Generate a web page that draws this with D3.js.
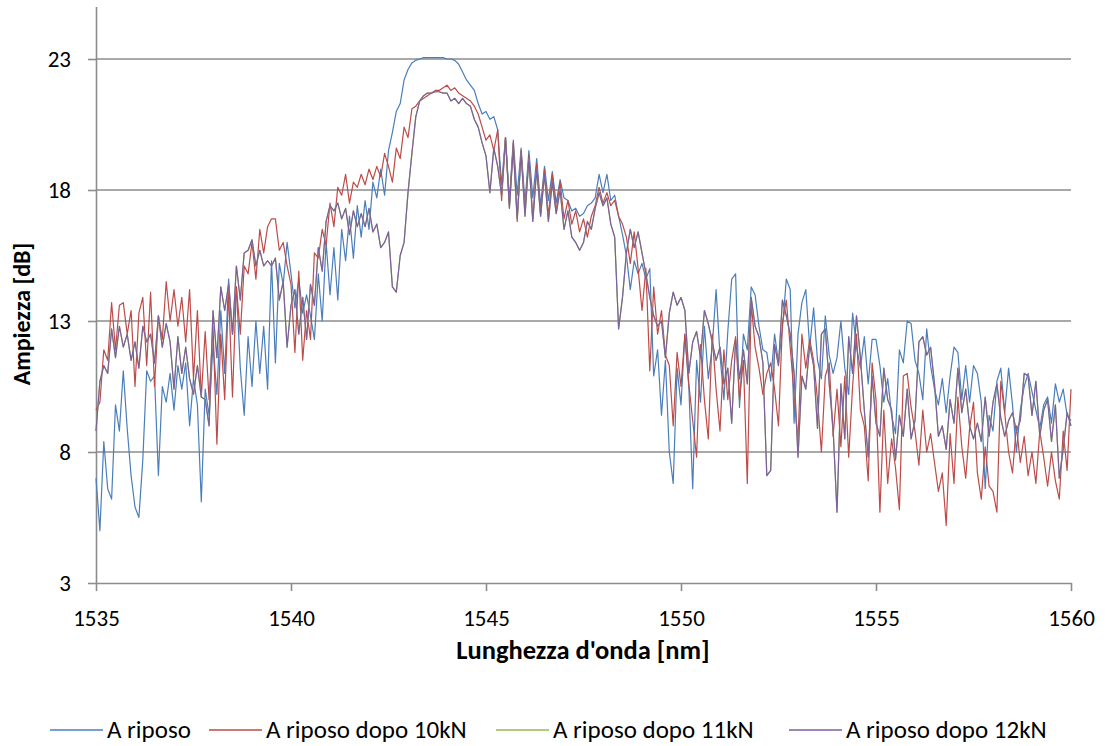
<!DOCTYPE html>
<html>
<head>
<meta charset="utf-8">
<script src="https://cdn.jsdelivr.net/npm/d3@7"></script>
<style>
  body { margin: 0; background: #fff; }
  text { font-family: Carlito, Calibri, Lato, sans-serif; fill: #000; }
</style>
</head>
<body>
<svg id="chart" width="1108" height="746"></svg>
<script>
// sampling grid of the spectra (nm)
var startNm = 1535, stepNm = 0.1;

// one row per nm, 10 samples each, last row is 1560.0
var aRiposo = [
  7.0, 5.0, 8.4, 6.6, 6.2, 9.8, 8.8, 11.1, 8.9, 7.1,
  5.9, 5.5, 7.7, 11.1, 10.7, 10.9, 7.1, 10.5, 9.9, 11.0,
  9.6, 11.3, 10.4, 11.4, 9.0, 10.8, 9.8, 6.1, 10.4, 9.4,
  12.1, 10.2, 13.4, 11.0, 14.6, 12.5, 14.3, 11.2, 9.4, 12.4,
  10.5, 13.0, 11.0, 12.8, 10.4, 15.3, 11.4, 15.2, 14.4, 16.0,
  14.8, 13.5, 14.6, 13.3, 14.0, 13.2, 12.3, 14.8, 13.0, 16.0,
  14.0, 15.8, 13.8, 16.5, 15.3, 17.0, 15.4, 17.4, 16.2, 17.6,
  16.5, 18.3, 17.7, 18.8, 17.8, 19.5, 20.2, 21.0, 21.3, 22.2,
  22.6, 22.85, 22.95, 23.0, 23.05, 23.05, 23.05, 23.05, 23.05, 23.05,
  23.0, 23.0, 22.95, 22.8, 22.5, 22.2, 22.0, 21.8, 21.3, 20.9,
  21.0, 20.7, 20.8, 20.3, 18.2, 20.0, 17.6, 19.9, 17.8, 19.6,
  17.5, 19.5, 17.7, 19.2, 17.4, 18.9, 17.6, 18.7, 17.5, 18.4,
  17.7, 17.6, 17.2, 17.3, 17.0, 17.1, 17.4, 17.5, 17.7, 18.6,
  17.9, 18.6, 17.6, 17.8, 17.0, 16.3, 15.5, 14.2, 15.3, 14.8,
  15.2, 14.6, 15.0, 10.9, 11.9, 9.4, 11.5, 8.0, 6.8, 11.2,
  9.8, 12.5, 10.5, 6.6, 11.5, 9.9, 12.8, 10.8, 12.0, 14.2,
  11.7, 10.0, 12.6, 14.6, 14.8, 9.7, 12.5, 11.9, 14.3, 14.0,
  12.8, 11.9, 11.8, 10.7, 12.5, 11.4, 12.7, 14.6, 14.2, 9.1,
  12.5, 13.7, 14.2, 12.0, 13.5, 11.5, 10.8, 13.2, 11.7, 11.0,
  11.6, 13.0, 11.2, 10.2, 13.3, 12.0, 11.2, 12.4, 10.6, 12.3,
  12.3, 11.3, 9.9, 10.8, 9.4, 8.7, 11.9, 11.4, 13.0, 12.9,
  11.5, 11.0, 10.0, 12.7, 11.3, 10.4, 9.8, 10.8, 9.5, 10.9,
  12.0, 11.8, 10.0, 11.3, 9.9, 11.3, 11.0, 9.9, 6.6, 9.4,
  8.8, 10.7, 11.2, 9.5, 11.2, 9.8, 8.0, 9.6, 10.5, 11.0,
  10.3, 9.6, 8.9, 9.8, 10.1, 9.1, 10.6, 9.9, 10.4, 9.4,
  9.2
];

var dopo10kN = [
  9.6, 9.9, 11.9, 11.5, 13.7, 11.9, 13.6, 13.7, 12.5, 13.4,
  10.5, 13.3, 13.9, 11.3, 14.1, 10.5, 13.2, 12.3, 14.5, 13.0,
  14.2, 12.8, 13.9, 12.2, 14.2, 10.8, 13.4, 10.1, 12.6, 10.0,
  12.8, 8.3, 12.5, 10.0, 14.1, 10.1, 14.3, 12.5, 15.1, 14.8,
  16.0, 14.6, 16.5, 15.6, 16.6, 16.9, 16.9, 15.7, 16.0, 15.1,
  14.4, 11.8, 14.9, 11.5, 13.4, 12.3, 15.6, 15.4, 16.5, 15.9,
  17.5, 16.6, 18.1, 17.8, 18.6, 17.5, 18.3, 18.1, 18.6, 18.2,
  18.8, 18.4, 18.9, 18.5, 19.4, 18.9, 18.3, 19.6, 19.2, 20.4,
  20.0, 21.1, 21.2, 21.4, 21.5, 21.6, 21.7, 21.8, 21.8, 21.9,
  22.0, 21.8, 21.9, 21.7, 21.6, 21.5, 21.4, 21.2, 20.9, 20.4,
  19.9, 20.1, 19.5, 20.3, 17.6, 20.0, 17.4, 19.8, 16.8, 19.5,
  17.2, 19.3, 16.9, 19.0, 17.1, 18.8, 17.0, 18.6, 17.2, 18.3,
  16.9, 17.6, 16.7, 17.2, 16.4, 16.9, 16.2, 17.0, 17.4, 18.1,
  17.5, 17.9, 17.4, 17.6, 17.0, 16.7, 16.2, 15.2, 16.4, 15.0,
  13.4, 15.0, 11.1, 14.3, 12.5, 13.4, 11.7, 11.3, 9.0, 11.8,
  10.5, 12.5, 10.6, 9.2, 7.8, 12.1, 10.0, 8.5, 12.5, 10.4,
  8.8, 11.9, 10.0, 11.5, 12.4, 10.0, 11.5, 6.8, 13.7, 12.0,
  11.2, 10.2, 11.0, 11.4, 10.4, 9.0, 12.9, 13.8, 12.0, 10.2,
  8.4, 12.5, 11.2, 12.3, 11.5, 10.0, 8.0, 10.9, 11.4, 8.6,
  10.4, 8.2, 10.9, 7.8, 10.5, 12.5, 9.6, 9.0, 6.9, 11.4,
  10.0, 5.7, 9.6, 6.8, 8.5, 7.4, 5.8, 10.9, 11.0, 9.7,
  8.8, 7.5, 9.6, 8.0, 8.7, 7.6, 6.5, 7.2, 5.2, 8.7,
  6.8, 10.1, 8.2, 7.0, 8.9, 9.9, 7.2, 6.2, 8.2, 6.7,
  6.5, 5.7, 10.7, 9.5, 8.0, 7.2, 9.0, 7.6, 8.6, 7.1,
  8.0, 6.8, 8.8, 7.8, 6.7, 8.0, 6.9, 6.2, 8.8, 7.3,
  10.4
];

var dopo12kN = [
  8.8, 10.7, 11.3, 11.0, 12.7, 11.6, 12.8, 12.0, 12.5, 11.5,
  12.2, 11.2, 12.8, 12.2, 12.5, 11.4, 13.2, 12.0, 12.9, 12.2,
  10.4, 12.4, 11.0, 12.0, 10.8, 10.2, 11.3, 10.1, 10.0, 9.0,
  13.4, 11.6, 14.3, 13.4, 14.4, 12.5, 15.1, 13.8, 15.6, 15.7,
  16.1, 15.1, 15.7, 15.1, 15.3, 15.1, 15.4, 13.8, 14.5, 12.0,
  13.6, 14.2, 12.5, 13.9, 12.3, 14.4, 13.6, 15.8, 14.9, 16.8,
  17.4, 17.2, 17.5, 16.9, 17.3, 16.3, 17.2, 16.6, 17.1, 16.6,
  17.3, 16.4, 16.7, 15.8, 16.0, 16.4, 14.3, 14.1, 15.5, 16.0,
  17.9, 19.4, 20.8, 21.4, 21.6, 21.7, 21.7, 21.75, 21.75, 21.7,
  21.7, 21.4, 21.5, 21.3, 21.5, 21.3, 21.2, 20.7, 20.4, 19.8,
  19.3, 17.9, 19.6, 18.9, 17.8, 20.0, 17.3, 19.6, 16.9, 19.4,
  17.0, 19.2, 16.8, 18.8, 17.0, 18.6, 16.8, 18.3, 17.1, 18.0,
  16.5, 17.2, 16.2, 16.0, 15.7, 16.0, 16.8, 16.5, 17.3, 17.9,
  17.4, 17.7, 16.7, 16.2, 12.7, 13.9, 15.6, 16.5, 15.8, 16.4,
  15.6, 14.8, 13.9, 13.2, 12.8, 13.0, 11.6, 13.3, 14.1, 13.6,
  13.9, 13.4, 11.0, 12.2, 12.6, 11.6, 13.4, 12.9, 12.2, 11.5,
  12.0, 10.6, 11.2, 9.1, 12.3, 10.8, 11.9, 10.6, 13.9, 12.8,
  12.4, 11.4, 7.1, 7.3, 12.1, 11.3, 13.8, 13.2, 12.5, 11.0,
  7.8, 10.9, 10.4, 12.1, 11.3, 8.9, 12.5, 12.7, 10.6, 8.9,
  5.7, 10.6, 8.5, 12.4, 11.0, 13.2, 11.6, 9.6, 7.8, 10.9,
  9.1, 8.6, 11.2, 10.0, 9.6, 7.7, 9.4, 8.6, 10.4, 8.5,
  9.2, 12.2, 12.4, 11.7, 12.0, 10.6, 8.6, 9.0, 8.1, 10.0,
  9.1, 11.2, 9.5, 10.4, 9.0, 8.5, 9.1, 8.4, 10.1, 8.6,
  9.9, 10.6, 9.3, 8.6, 9.2, 9.5, 8.8, 9.2, 11.0, 10.9,
  9.4, 10.7, 8.6, 9.6, 10.0, 8.4, 9.8, 7.0, 8.1, 9.5,
  9.0
];

// the 11kN trace is not visible in the picture: it lies under the 12kN one
var dopo11kN = dopo12kN;

var seriesNames = ["A riposo", "A riposo dopo 10kN", "A riposo dopo 11kN", "A riposo dopo 12kN"];
var seriesData = [aRiposo, dopo10kN, dopo11kN, dopo12kN];
var seriesColors = ["#4a7ebb", "#be4b48", "#98b954", "#7d5fa0"];

var xTicks = [1535, 1540, 1545, 1550, 1555, 1560];
var yTicks = [3, 8, 13, 18, 23];

var gridColor = "#8c8c8c";

var svg = d3.select("#chart");

var x = d3.scaleLinear().domain([1535, 1560]).range([96, 1071]);
var y = d3.scaleLinear().domain([3, 25]).range([583, 6.6]);

// horizontal gridlines
svg.append("g")
  .selectAll("line")
  .data(yTicks.filter(function(d) { return d !== 3; }))
  .enter().append("line")
  .attr("x1", x(1535)).attr("x2", x(1560))
  .attr("y1", function(d) { return y(d); })
  .attr("y2", function(d) { return y(d); })
  .style("stroke", gridColor)
  .style("stroke-width", 1.6);

// axes
var yAxis = svg.append("g")
  .attr("transform", "translate(" + x(1535) + ",0)")
  .call(d3.axisLeft(y).tickValues(yTicks).tickSize(8).tickSizeOuter(0).tickPadding(17));

var xAxis = svg.append("g")
  .attr("transform", "translate(0," + y(3) + ")")
  .call(d3.axisBottom(x).tickValues(xTicks).tickFormat(d3.format("d")).tickSize(8).tickSizeOuter(0).tickPadding(19));

[yAxis, xAxis].forEach(function(ax) {
  ax.select(".domain").style("stroke", gridColor).style("stroke-width", 1.6);
  ax.selectAll(".tick line").style("stroke", gridColor).style("stroke-width", 1.6);
  ax.selectAll(".tick text")
    .style("font-family", "Carlito, Calibri, Lato, sans-serif")
    .style("font-size", "23px")
    .style("fill", "#000");
});

// spectra
var line = d3.line()
  .x(function(d, i) { return x(startNm + i * stepNm); })
  .y(function(d) { return y(d); });

for (var k = 0; k < seriesData.length; k++) {
  svg.append("path")
    .datum(seriesData[k])
    .attr("d", line)
    .style("fill", "none")
    .style("stroke", seriesColors[k])
    .style("stroke-width", 1.2)
    .style("stroke-linejoin", "round");
}

// axis titles
svg.append("text")
  .attr("x", 583).attr("y", 659)
  .attr("text-anchor", "middle")
  .style("font-size", "26.5px")
  .style("font-weight", "bold")
  .text("Lunghezza d'onda [nm]");

svg.append("text")
  .attr("transform", "translate(30,314) rotate(-90)")
  .attr("text-anchor", "middle")
  .style("font-size", "24px")
  .style("font-weight", "bold")
  .text("Ampiezza [dB]");

// legend
var legendX = [50, 209, 496, 789];
var legend = svg.append("g");
for (var j = 0; j < seriesNames.length; j++) {
  legend.append("line")
    .attr("x1", legendX[j]).attr("x2", legendX[j] + 53)
    .attr("y1", 730).attr("y2", 730)
    .style("stroke", seriesColors[j])
    .style("stroke-width", 1.6);
  legend.append("text")
    .attr("x", legendX[j] + 57).attr("y", 738)
    .style("font-size", "25px")
    .text(seriesNames[j]);
}
</script>
</body>
</html>
